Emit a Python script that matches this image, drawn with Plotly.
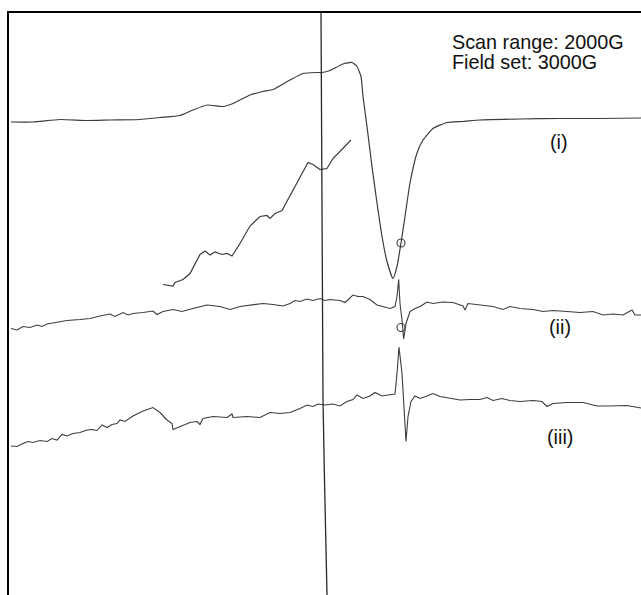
import plotly.graph_objects as go

# Field (G) and signal (a.u., offset stacked)
field_i = [2006, 2072, 2153, 2234, 2303, 2393, 2453, 2513, 2552, 2594, 2642, 2672, 2723, 2762,
           2792, 2843, 2882, 2924, 2939, 2963, 3002, 3029, 3044, 3056, 3062, 3074, 3089, 3104,
           3119, 3134, 3152, 3164, 3176, 3188, 3203, 3224, 3242, 3272, 3314, 3362, 3413, 3533,
           3653, 3773, 3896]
signal_i = [478, 478, 480.5, 479.5, 480, 480.5, 482.5, 484.5, 490, 495, 493.5, 496.5, 505, 508.5,
            510.5, 520, 526.5, 527.5, 527.5, 529.5, 536, 537.5, 533.5, 523.5, 503.5, 473.5, 433.5, 397,
            363.5, 338.5, 321.5, 333.5, 357, 383.5, 417, 447, 460, 471.5, 477.5, 478.5, 480, 481,
            481.5, 481.5, 482]

field_inset = [2462, 2492, 2498, 2522, 2543, 2573, 2588, 2603, 2618, 2639, 2654, 2669, 2693,
               2723, 2753, 2774, 2783, 2798, 2819, 2852, 2897, 2912, 2933, 2954, 2972, 3026]
signal_inset = [315.5, 314, 317.5, 320.5, 326.5, 345.5, 349, 345, 348, 345.5, 346.5, 344, 356.5,
                374, 383.5, 384.5, 381.5, 386.5, 389.5, 410, 437.5, 435.5, 430.5, 431.5, 441.5, 460]

field_ii = [2006, 2024, 2042, 2063, 2084, 2099, 2114, 2144, 2174, 2213, 2243, 2273, 2303, 2318,
            2342, 2357, 2372, 2402, 2432, 2444, 2462, 2492, 2519, 2552, 2594, 2633, 2663, 2693,
            2732, 2762, 2792, 2822, 2843, 2858, 2873, 2894, 2912, 2933, 2948, 2963, 2993, 3008,
            3032, 3047, 3062, 3083, 3104, 3122, 3143, 3158, 3164, 3169, 3173, 3179, 3184, 3191,
            3203, 3218, 3233, 3254, 3272, 3302, 3332, 3362, 3368, 3377, 3413, 3452, 3482, 3503,
            3533, 3572, 3602, 3632, 3674, 3713, 3752, 3782, 3812, 3842, 3869, 3878, 3896]
signal_ii = [271.5, 270, 273.5, 272.5, 275, 273.5, 276, 277.5, 279.5, 280.5, 281.5, 284, 286, 283.5,
             287.5, 285, 286.5, 287.5, 289, 285.5, 288.5, 290.5, 288.5, 291.5, 295, 293.5, 290.5, 293.5,
             295, 296.5, 295.5, 294, 296.5, 299.5, 298.5, 301, 299.5, 301.5, 299.5, 300.5, 299.5, 297.5,
             305, 303.5, 303.5, 300.5, 295, 293.5, 291.5, 293.5, 303.5, 320.5, 296.5, 280, 261, 276.5,
             288.5, 291.5, 293.5, 298, 296.5, 298, 297.5, 294, 290, 296.5, 295, 293.5, 290.5, 293.5,
             291.5, 290.5, 288.5, 289.5, 288.5, 287.5, 288.5, 285, 286, 285, 290, 285, 285]

field_iii = [2006, 2024, 2042, 2057, 2072, 2093, 2114, 2129, 2144, 2159, 2174, 2192, 2213, 2234,
             2249, 2264, 2279, 2294, 2309, 2324, 2333, 2348, 2372, 2402, 2432, 2453, 2474, 2489,
             2492, 2507, 2522, 2543, 2564, 2573, 2582, 2612, 2654, 2669, 2672, 2714, 2753, 2783,
             2813, 2843, 2873, 2894, 2912, 2927, 2948, 2972, 2993, 3014, 3032, 3044, 3062, 3083,
             3098, 3119, 3137, 3158, 3164, 3170, 3179, 3185, 3191, 3197, 3206, 3218, 3233, 3254,
             3272, 3293, 3323, 3353, 3383, 3413, 3434, 3452, 3479, 3503, 3533, 3572, 3599, 3614,
             3632, 3674, 3722, 3764, 3803, 3854, 3896]
signal_iii = [154, 153.5, 156.5, 158.5, 157.5, 159.5, 158.5, 161.5, 160, 165.5, 164, 166.5, 167.5, 170,
              170.5, 169.5, 175, 172.5, 175.5, 176.5, 180, 178.5, 184, 189, 192.5, 187.5, 180, 176.5,
              170.5, 172.5, 175, 177.5, 178.5, 175.5, 181.5, 183.5, 182.5, 186, 182.5, 183.5, 182.5, 187.5,
              186.5, 187.5, 191.5, 195, 193.5, 196, 195, 196, 194, 198.5, 200.5, 205, 201.5, 204,
              207.5, 204, 205, 206, 226.5, 253, 226.5, 186.5, 158.5, 183.5, 198.5, 204, 201.5, 204,
              206.5, 203.5, 201.5, 200, 200.5, 200.5, 202.5, 199.5, 201.5, 199.5, 198.5, 199.5, 198.5, 193.5,
              196.5, 197.5, 197.5, 194, 194, 194.5, 192]

# reference marker line
field_marker = [2936, 2939, 2942, 2946.5, 2951, 2954]
signal_marker = [587, 300, 200, 120, 40, 5]

# open circles on (i) and (ii)
field_circles = [3176, 3176]
signal_circles = [357, 272.5]

ink = "#3c3c3c"
fig = go.Figure()
fig.add_trace(go.Scatter(x=field_i, y=signal_i, mode="lines",
                         line=dict(color=ink, width=1.2, shape="spline", smoothing=0.5)))
fig.add_trace(go.Scatter(x=field_inset, y=signal_inset, mode="lines",
                         line=dict(color=ink, width=1.2)))
fig.add_trace(go.Scatter(x=field_ii, y=signal_ii, mode="lines",
                         line=dict(color=ink, width=1.1)))
fig.add_trace(go.Scatter(x=field_iii, y=signal_iii, mode="lines",
                         line=dict(color=ink, width=1.1)))
fig.add_trace(go.Scatter(x=field_marker, y=signal_marker, mode="lines",
                         line=dict(color="#2a2a2a", width=1.3)))
fig.add_trace(go.Scatter(x=field_circles, y=signal_circles, mode="markers",
                         marker=dict(symbol="circle-open", size=8, color=ink, line=dict(width=1.1))))

font = dict(family="Liberation Sans, Arial, sans-serif", size=19.8, color="#111111")
anns = [
    dict(text="Scan range: 2000G", x=0.6975, y=0.951, xanchor="left"),
    dict(text="Field set: 3000G", x=0.6975, y=0.915, xanchor="left"),
    dict(text="(i)", x=0.8705, y=0.778, xanchor="center"),
    dict(text="(ii)", x=0.8718, y=0.4605, xanchor="center"),
    dict(text="(iii)", x=0.8718, y=0.271, xanchor="center"),
]
for a in anns:
    fig.add_annotation(xref="paper", yref="paper", yanchor="middle", showarrow=False,
                       font=font, **a)

fig.update_layout(
    width=641, height=595,
    margin=dict(l=9, r=0, t=13, b=0),
    paper_bgcolor="white", plot_bgcolor="white",
    showlegend=False,
    xaxis=dict(range=[2000, 3896], visible=True, showgrid=False, zeroline=False,
               showticklabels=False, ticks="", side="top",
               showline=True, linecolor="black", linewidth=2),
    yaxis=dict(range=[5, 587], showgrid=False, zeroline=False, showticklabels=False,
               ticks="", showline=True, linecolor="black", linewidth=2),
)
fig.write_html("out.html")
